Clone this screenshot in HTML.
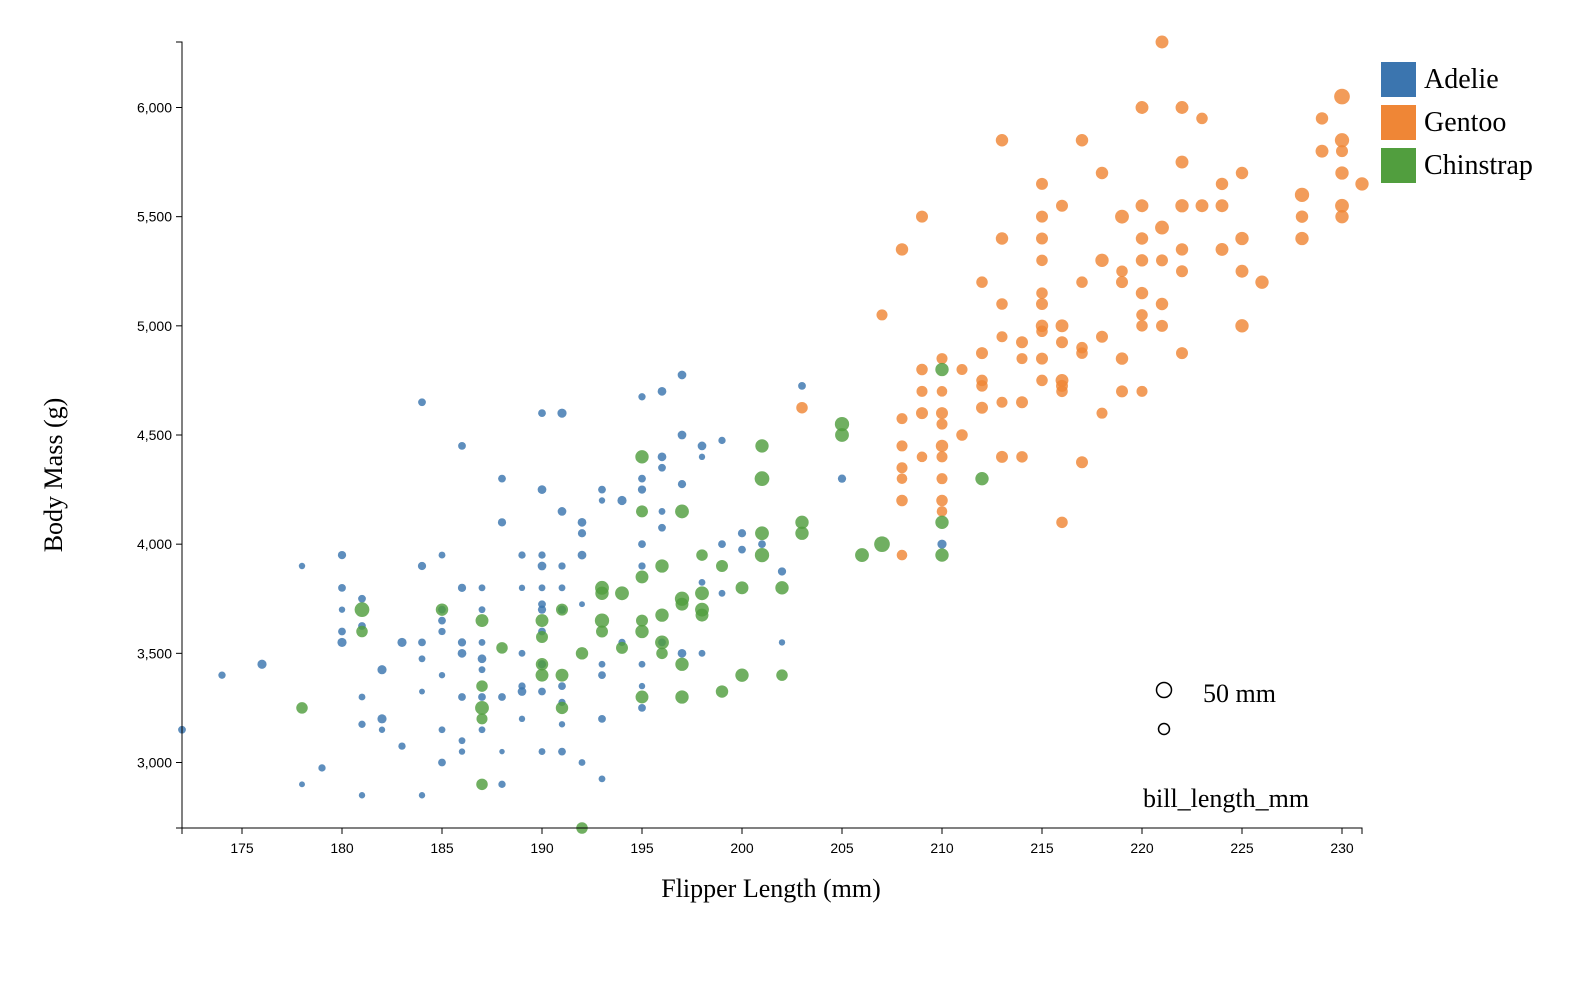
<!DOCTYPE html>
<html><head><meta charset="utf-8"><style>
body{margin:0;background:#fff}
svg{display:block}
.tick{font-family:"Liberation Sans",sans-serif;font-size:14px;fill:#000}
.ser{font-family:"Liberation Serif",serif;fill:#000}
</style></head><body>
<svg id="chart" width="1594" height="992"></svg>
<script>
const adelie=[[172,3150,38],[174,3400,37],[176,3450,41],[178,3900,35],[178,2900,34],[179,2975,37],[180,3950,39],[180,3800,38],[180,3700,35],[180,3600,38],[180,3550,41],[181,3750,38],[181,3625,38],[181,3300,36],[181,3175,37],[181,2850,35],[182,3425,41],[182,3200,41],[182,3150,35],[183,3550,41],[183,3075,37],[184,4650,38],[184,3900,39],[184,3550,38],[184,3475,36],[184,3325,34],[184,2850,35],[185,3950,36],[185,3700,38],[185,3650,38],[185,3600,37],[185,3400,35],[185,3150,36],[185,3000,38],[186,4450,38],[186,3800,39],[186,3550,39],[186,3500,40],[186,3300,38],[186,3100,36],[186,3050,35],[187,3800,36],[187,3700,36],[187,3550,36],[187,3475,40],[187,3425,36],[187,3300,38],[187,3150,36],[188,4300,38],[188,4100,39],[188,3300,38],[188,3050,33],[188,2900,37],[189,3950,37],[189,3800,35],[189,3500,36],[189,3350,37],[189,3325,40],[189,3200,35],[190,4600,38],[190,4250,40],[190,3950,37],[190,3900,40],[190,3800,36],[190,3725,38],[190,3700,39],[190,3600,38],[190,3450,39],[190,3325,38],[190,3050,36],[191,4600,41],[191,4150,40],[191,3900,37],[191,3800,36],[191,3700,39],[191,3350,38],[191,3275,37],[191,3175,35],[191,3050,38],[192,4100,40],[192,4050,39],[192,3950,40],[192,3725,34],[192,3000,36],[193,4250,38],[193,4200,35],[193,3450,36],[193,3400,38],[193,3200,38],[193,2925,36],[194,4200,41],[194,3550,37],[195,4675,37],[195,4300,38],[195,4250,39],[195,4000,38],[195,3900,37],[195,3450,36],[195,3350,35],[195,3250,38],[196,4700,40],[196,4400,40],[196,4350,38],[196,4150,36],[196,4075,38],[196,3550,38],[197,4775,40],[197,4500,40],[197,4275,39],[197,3500,40],[198,4450,40],[198,4400,35],[198,3825,36],[198,3500,36],[199,4475,37],[199,4000,38],[199,3775,36],[200,4050,39],[200,3975,38],[201,4000,38],[202,3875,39],[202,3550,35],[203,4725,38],[205,4300,39],[210,4000,41]];
const gentoo=[[203,4625,46],[207,5050,45],[208,5350,48],[208,4575,45],[208,4450,45],[208,4350,45],[208,4300,44],[208,4200,46],[208,3950,44],[209,5500,47],[209,4800,46],[209,4700,45],[209,4600,47],[209,4400,44],[210,4850,45],[210,4700,44],[210,4600,47],[210,4550,45],[210,4450,48],[210,4400,45],[210,4300,45],[210,4200,46],[210,4150,44],[211,4800,45],[211,4500,46],[212,5200,46],[212,4875,47],[212,4750,46],[212,4725,46],[212,4625,47],[213,5850,48],[213,5400,48],[213,5100,46],[213,4950,45],[213,4650,45],[213,4400,47],[214,4925,47],[214,4850,45],[214,4650,47],[214,4400,46],[215,5650,47],[215,5500,47],[215,5400,47],[215,5300,46],[215,5150,46],[215,5100,47],[215,5000,48],[215,4975,46],[215,4850,47],[215,4750,46],[216,5550,47],[216,5000,49],[216,4925,47],[216,4750,49],[216,4725,47],[216,4700,46],[216,4100,46],[217,5850,48],[217,5200,46],[217,4900,46],[217,4875,46],[217,4375,47],[218,5700,48],[218,5300,50],[218,4950,47],[218,4600,45],[219,5500,51],[219,5250,46],[219,5200,47],[219,4850,48],[219,4700,47],[220,6000,49],[220,5550,49],[220,5400,48],[220,5300,48],[220,5150,48],[220,5050,46],[220,5000,46],[220,4700,45],[221,6300,49],[221,5450,51],[221,5300,47],[221,5100,48],[221,5000,47],[222,6000,49],[222,5750,49],[222,5550,50],[222,5350,48],[222,5250,47],[222,4875,47],[223,5950,46],[223,5550,49],[224,5650,48],[224,5550,49],[224,5350,49],[225,5700,48],[225,5400,50],[225,5250,49],[225,5000,50],[226,5200,50],[228,5600,52],[228,5500,48],[228,5400,50],[229,5950,48],[229,5800,49],[230,6050,55],[230,5850,52],[230,5800,47],[230,5700,50],[230,5550,51],[230,5500,50],[231,5650,50]];
const chinstrap=[[178,3250,46],[181,3700,53],[181,3600,46],[185,3700,48],[187,3650,49],[187,3350,46],[187,3250,51],[187,3200,45],[187,2900,46],[188,3525,46],[190,3650,49],[190,3575,47],[190,3450,48],[190,3400,49],[191,3700,47],[191,3400,49],[191,3250,48],[192,3500,48],[192,2700,46],[193,3800,51],[193,3775,50],[193,3650,52],[193,3600,47],[194,3775,51],[194,3525,47],[195,4400,50],[195,4150,47],[195,3850,49],[195,3650,47],[195,3600,50],[195,3300,49],[196,3900,50],[196,3675,50],[196,3550,51],[196,3500,46],[197,4150,51],[197,3750,52],[197,3725,49],[197,3450,50],[197,3300,50],[198,3775,51],[198,3700,51],[198,3675,49],[198,3950,46],[199,3900,47],[199,3325,48],[200,3800,49],[200,3400,50],[201,4450,50],[201,4300,53],[201,4050,51],[201,3950,52],[202,3800,50],[202,3400,46],[203,4100,50],[203,4050,50],[205,4550,52],[205,4500,51],[206,3950,51],[207,4000,55],[210,4800,50],[210,4100,50],[210,3950,50],[212,4300,50]];
const xTicks=[175,180,185,190,195,200,205,210,215,220,225,230];
const yTicks=[3000,3500,4000,4500,5000,5500,6000];
const speciesNames=["Adelie","Gentoo","Chinstrap"];
const speciesColors=["#3b75af","#ef8636","#519e3e"];

const NS="http://www.w3.org/2000/svg";
const svg=document.getElementById('chart');
const X0=182,X1=1362,Y0=828,Y1=42;
const xs=v=>X0+(v-172)/(231-172)*(X1-X0);
const ys=v=>Y0-(v-2700)/(6300-2700)*(Y0-Y1);
const rs=b=>2.5+(b-32)/(60-32)*6.5;
function mk(tag,attrs,parent){const e=document.createElementNS(NS,tag);for(const k in attrs)e.setAttribute(k,attrs[k]);(parent||svg).appendChild(e);return e;}

const pts=mk('g',{});


[adelie,gentoo,chinstrap].forEach((arr,si)=>{
  arr.forEach(d=>{
    const c=mk('circle',{cx:xs(d[0]),cy:ys(d[1]),r:rs(d[2]),fill:speciesColors[si],'fill-opacity':0.82},pts);
    
    
  });
});

const ax=mk('g',{});


mk('path',{d:`M${X0},${Y0+6}V${Y0}H${X1}V${Y0+6}`,stroke:'#000',fill:'none'},ax);
xTicks.forEach(t=>{
  mk('line',{x1:xs(t),x2:xs(t),y1:Y0,y2:Y0+6,stroke:'#000'},ax);
  const tx=mk('text',{x:xs(t),y:Y0+25,'text-anchor':'middle',class:'tick'},ax);tx.textContent=t;
  
  
});
const ay=mk('g',{});


mk('path',{d:`M${X0-6},${Y1}H${X0}V${Y0}H${X0-6}`,stroke:'#000',fill:'none'},ay);
yTicks.forEach(t=>{
  mk('line',{x1:X0-6,x2:X0,y1:ys(t),y2:ys(t),stroke:'#000'},ay);
  const tx=mk('text',{x:X0-10,y:ys(t)+5,'text-anchor':'end',class:'tick'},ay);tx.textContent=t.toLocaleString('en-US');
  
  
});
const xt=mk('text',{x:771,y:897,'text-anchor':'middle',class:'ser','font-size':26});xt.textContent='Flipper Length (mm)';


const yt=mk('text',{x:0,y:0,'text-anchor':'middle',class:'ser','font-size':26,transform:'translate(62,475) rotate(-90)'});yt.textContent='Body Mass (g)';



const lg=mk('g',{});


speciesNames.forEach((n,i)=>{
  const r=mk('rect',{x:1381,y:62+i*43,width:35,height:35,fill:speciesColors[i]},lg);
  
  
  const t=mk('text',{x:1424,y:88+i*43,class:'ser','font-size':28},lg);t.textContent=n;
  
  
});
const sl=mk('g',{});


mk('circle',{cx:1164,cy:690,r:7.5,fill:'none',stroke:'#000','stroke-width':1.5},sl);
mk('circle',{cx:1164,cy:729,r:5.5,fill:'none',stroke:'#000','stroke-width':1.5},sl);
const s1=mk('text',{x:1203,y:702,class:'ser','font-size':26},sl);s1.textContent='50 mm';


const s2=mk('text',{x:1143,y:807,class:'ser','font-size':26},sl);s2.textContent='bill_length_mm';


</script>
</body></html>
